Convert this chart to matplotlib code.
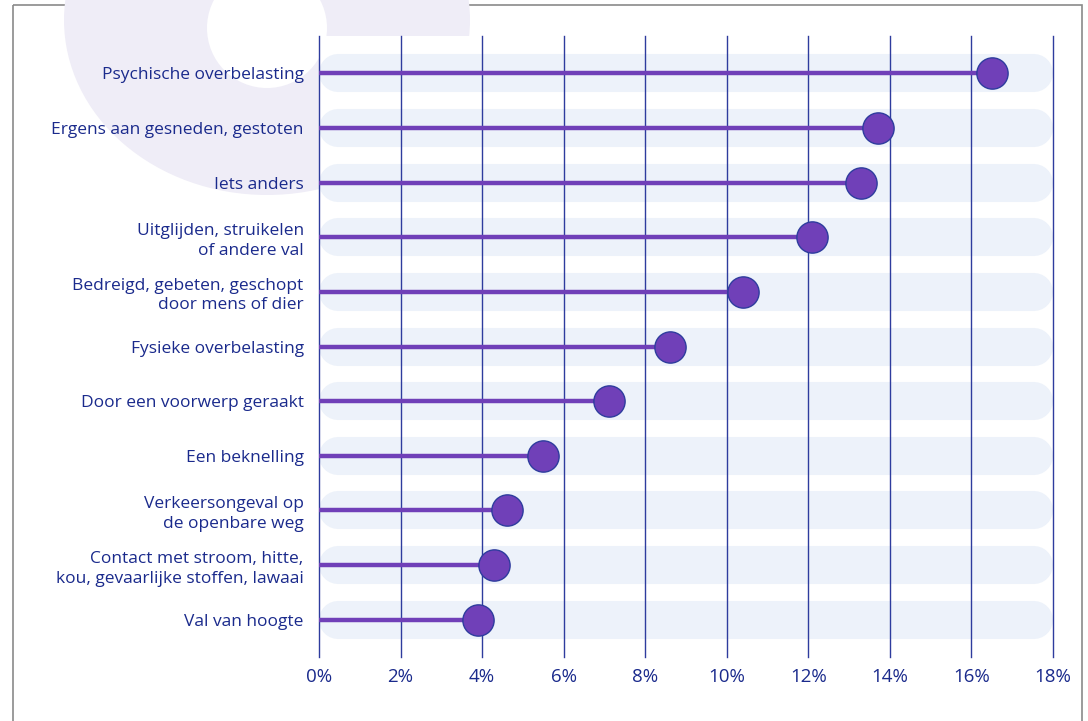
import numpy as np
import matplotlib.pyplot as plt
from matplotlib.patches import Ellipse, Circle, Rectangle

# Oorzaken van ongevallen (van boven naar beneden)
categorieen = [
    "Psychische overbelasting",
    "Ergens aan gesneden, gestoten",
    "Iets anders",
    "Uitglijden, struikelen\nof andere val",
    "Bedreigd, gebeten, geschopt\ndoor mens of dier",
    "Fysieke overbelasting",
    "Door een voorwerp geraakt",
    "Een beknelling",
    "Verkeersongeval op\nde openbare weg",
    "Contact met stroom, hitte,\nkou, gevaarlijke stoffen, lawaai",
    "Val van hoogte",
]
percentages = [16.5, 13.7, 13.3, 12.1, 10.4, 8.6, 7.1, 5.5, 4.6, 4.3, 3.9]
xticks = [0, 2, 4, 6, 8, 10, 12, 14, 16, 18]

tekst_kleur = "#1A2A8C"
grid_kleur = "#2E3C9E"
paars = "#7040B8"
band_kleur = "#EDF2FA"

plt.rcParams['font.family'] = ['Open Sans', 'DejaVu Sans']

fig = plt.figure(figsize=(10.88, 7.21), dpi=100)

# Decoratieve achtergrond-vorm en kader (in pixelcoördinaten van de figuur)
bg = fig.add_axes([0, 0, 1, 1], zorder=-10)
bg.set_xlim(0, 1088)
bg.set_ylim(721, 0)
bg.axis('off')
bg.add_patch(Rectangle((13, 5), 1069, 730, facecolor='none', edgecolor="#8A8A8A",
                       linewidth=1.2, zorder=1))
bg.add_patch(Ellipse((267, 20), 406, 350, facecolor="#EFEDF7", edgecolor='none', zorder=2))
bg.add_patch(Circle((267, 28), 60, facecolor="white", edgecolor='none', zorder=3))

ax = fig.add_axes([319 / 1088, 1 - 657 / 721, 734 / 1088, 621 / 721])
ax.set_facecolor("white")
y = np.arange(len(categorieen))

ax.set_xlim(0, 18)
ax.set_ylim(len(categorieen) - 1 + 0.68, -0.68)

# Achtergrondbanden met ronde uiteinden
half = 19 / 40.8
for yi in y:
    ax.plot([half, 18 - half], [yi, yi], color=band_kleur, linewidth=27.4,
            solid_capstyle='round', zorder=1)

# Verticale rasterlijnen
for xt in xticks:
    ax.axvline(xt, color=grid_kleur, linewidth=1.0, zorder=2, clip_on=False)

# Lollipops
ax.hlines(y, 0, percentages, color=paars, linewidth=3.2, zorder=3)
ax.plot(percentages, y, 'o', markersize=22.5, markerfacecolor=paars,
        markeredgecolor=grid_kleur, markeredgewidth=1.0, zorder=4, clip_on=False)

ax.set_xticks(xticks)
ax.set_xticklabels([f"{v}%" for v in xticks])
ax.set_yticks(y)
ax.set_yticklabels(categorieen, linespacing=1.3)
ax.tick_params(axis='both', length=0, colors=tekst_kleur)
ax.tick_params(axis='x', pad=8, labelsize=13.5)
ax.tick_params(axis='y', pad=11, labelsize=12.5)
for s in ax.spines.values():
    s.set_visible(False)

plt.savefig("out.png", dpi=100)
